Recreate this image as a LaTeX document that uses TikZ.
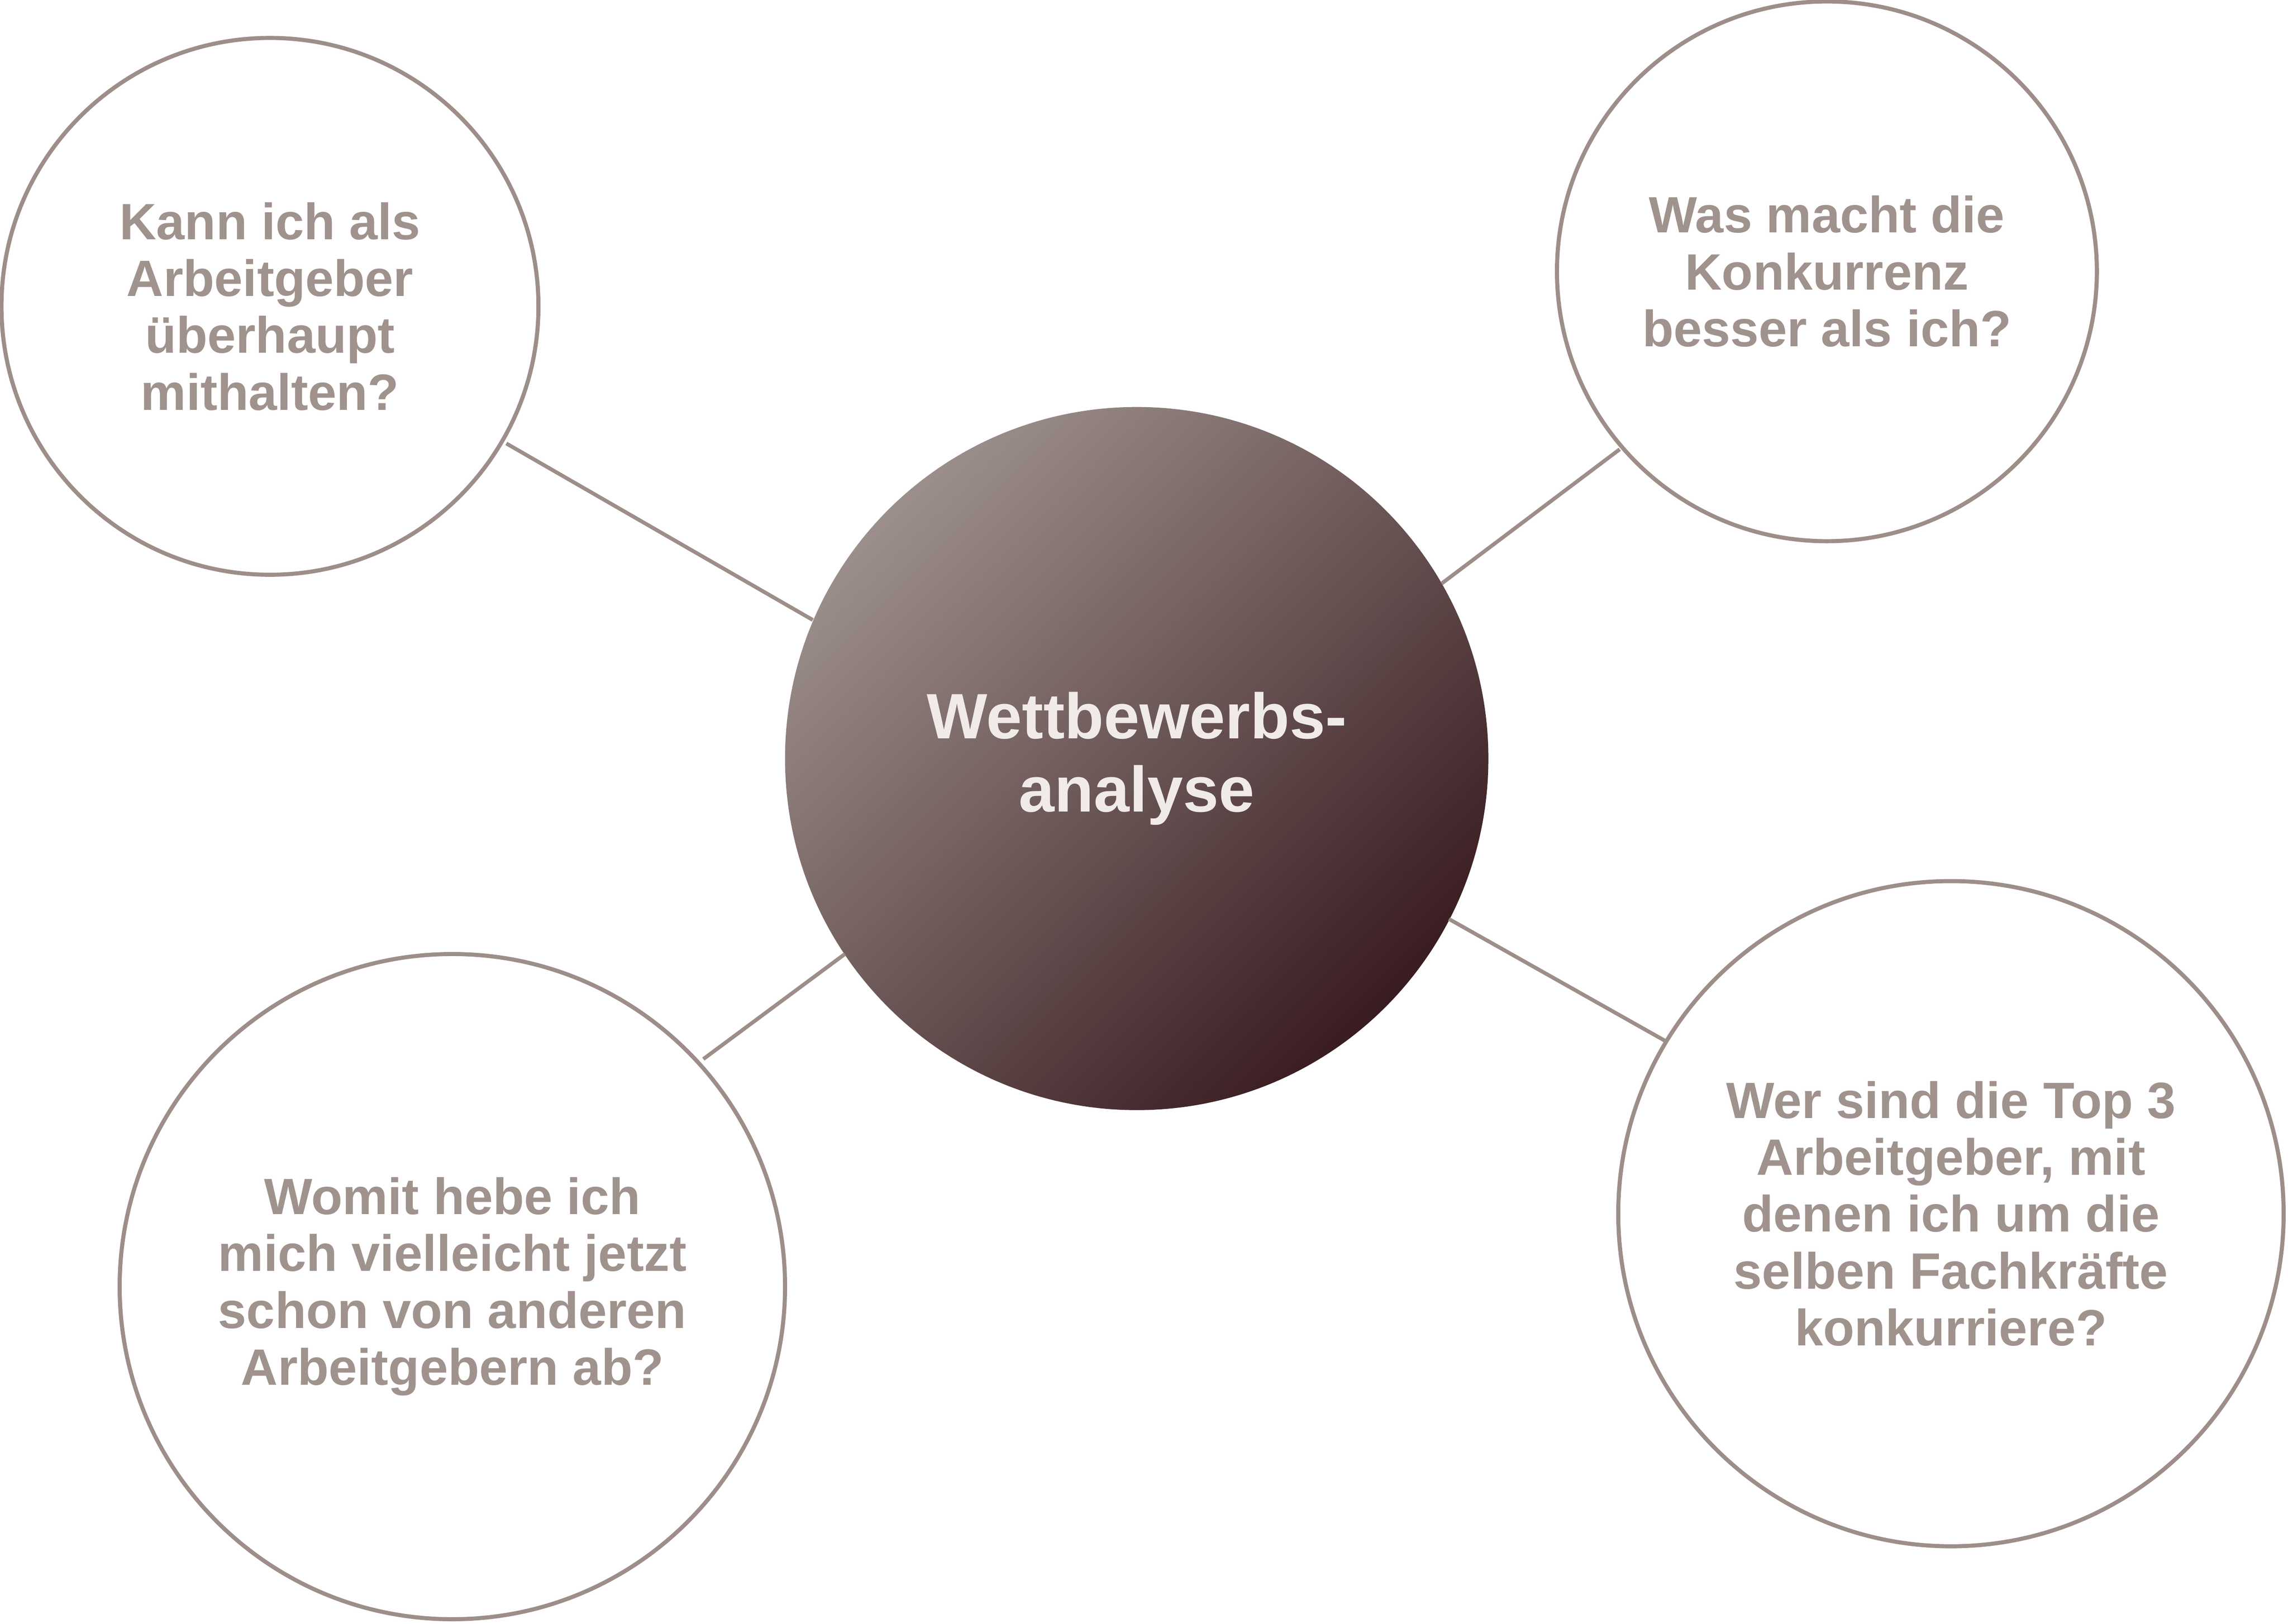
\documentclass[tikz,border=0pt]{standalone}
\usepackage{fontspec}
\setmainfont{Liberation Sans}
\definecolor{ring}{HTML}{9D8E89}
\definecolor{qtext}{HTML}{A0928D}
\definecolor{gtop}{HTML}{9C8F8B}
\definecolor{gbot}{HTML}{391C20}
\begin{document}
\begin{tikzpicture}[x=0.5pt,y=-0.5pt,
  q/.style={circle,draw=ring,line width=1.4pt,inner sep=0pt,text=qtext,font=\bfseries\fontsize{17.5}{19.5}\selectfont,align=center},
  link/.style={draw=ring,line width=1.3pt}]
\useasboundingbox (0,0) rectangle (1568,1113);
\node[q,minimum size=184pt] (tl) at (185,210) {Kann ich als\\Arbeitgeber\\überhaupt\\mithalten?};
\node[q,minimum size=185pt] (tr) at (1252,186) {Was macht die\\Konkurrenz\\besser als ich?};
\node[q,minimum size=228pt] (bl) at (310,882) {Womit hebe ich\\mich vielleicht jetzt\\schon von anderen\\Arbeitgebern ab?};
\node[q,minimum size=228pt] (br) at (1337,832) {Wer sind die Top 3\\Arbeitgeber, mit\\denen ich um die\\selben Fachkräfte\\konkurriere?};
\shade[shading=axis,top color=gtop,bottom color=gbot,shading angle=45] (779,520) circle (241);
\node[circle,minimum size=241pt,inner sep=0pt,text={rgb,255:red,240;green,235;blue,233},font=\bfseries\fontsize{22}{25}\selectfont,align=center] (c) at (779,520) {Wettbewerbs-\\analyse};
\draw[link] (347,304) -- (557,425);
\draw[link] (1110,308) -- (988,400);
\draw[link] (482,726) -- (579,654);
\draw[link] (993,630) -- (1142,714);
\end{tikzpicture}
\end{document}
